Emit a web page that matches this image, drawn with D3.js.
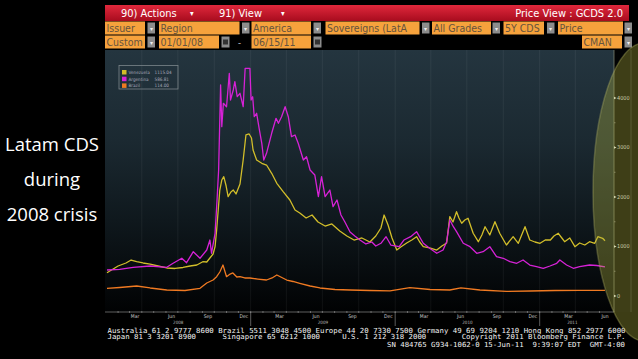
<!DOCTYPE html>
<html>
<head>
<meta charset="utf-8">
<script src="https://cdn.jsdelivr.net/npm/d3@7/dist/d3.min.js"></script>
<style>
body { margin: 0; background: #000; }
</style>
</head>
<body>
<div id="chart"></div>
<script>
// values (5Y CDS, bp)
var venezuela = [
["2008-01-04",470],["2008-02-01",606],["2008-02-21",667],["2008-03-05",727],["2008-03-19",693],
["2008-04-04",667],["2008-04-22",646],["2008-05-12",606],["2008-06-03",566],["2008-06-24",556],
["2008-07-14",576],["2008-08-01",606],["2008-08-18",626],["2008-09-02",693],["2008-09-12",687],
["2008-09-20",768],["2008-09-28",848],["2008-10-03",996],["2008-10-07",1333],["2008-10-11",1737],
["2008-10-15",2141],["2008-10-20",2343],["2008-10-25",2410],["2008-10-31",2222],["2008-11-05",2006],
["2008-11-12",2101],["2008-11-18",2141],["2008-11-25",2061],["2008-12-05",2263],["2008-12-13",2747],
["2008-12-20",3253],["2008-12-28",3273],["2009-01-03",3192],["2009-01-07",2949],["2009-01-16",2747],
["2009-01-29",2681],["2009-02-10",2646],["2009-02-23",2479],["2009-03-08",2277],["2009-03-24",2107],
["2009-04-10",1939],["2009-04-23",1737],["2009-05-05",1677],["2009-05-21",1576],["2009-06-05",1636],
["2009-06-20",1495],["2009-07-08",1414],["2009-07-25",1455],["2009-08-14",1313],["2009-09-01",1212],
["2009-09-19",1131],["2009-10-09",1172],["2009-10-29",1091],["2009-11-13",1212],["2009-11-26",1374],
["2009-12-04",1636],["2009-12-14",1434],["2009-12-24",1172],["2010-01-05",929],["2010-01-15",990],
["2010-01-30",1071],["2010-02-12",1131],["2010-02-24",1198],["2010-03-04",1091],["2010-03-13",996],
["2010-03-29",970],["2010-04-16",929],["2010-04-29",1010],["2010-05-11",1071],["2010-05-19",1602],
["2010-05-27",1495],["2010-06-05",1703],["2010-06-11",1576],["2010-06-18",1469],["2010-06-26",1535],
["2010-07-04",1570],["2010-07-17",1267],["2010-07-30",1097],["2010-08-08",1232],["2010-08-16",1400],
["2010-08-28",1232],["2010-09-10",1501],["2010-09-22",1267],["2010-10-09",1030],["2010-10-26",1198],
["2010-11-08",1065],["2010-11-25",1400],["2010-12-07",1131],["2010-12-20",1091],["2011-01-02",1065],
["2011-01-15",1131],["2011-01-28",1131],["2011-02-06",1212],["2011-02-17",1267],["2011-02-26",1172],
["2011-03-05",1097],["2011-03-18",1172],["2011-03-31",996],["2011-04-12",1071],["2011-04-25",1030],
["2011-05-07",1097],["2011-05-20",1065],["2011-05-28",1198],["2011-06-09",1166],["2011-06-15",1115]
];

var argentina = [
["2008-01-04",525],["2008-02-05",539],["2008-03-10",580],["2008-04-22",606],["2008-06-03",580],
["2008-06-19",661],["2008-07-11",762],["2008-07-23",673],["2008-08-09",895],["2008-08-26",762],
["2008-09-12",929],["2008-09-20",1131],["2008-09-24",863],["2008-10-03",1267],["2008-10-08",1939],
["2008-10-12",2545],["2008-10-17",4263],["2008-10-20",3420],["2008-10-24",3893],["2008-11-01",3824],
["2008-11-08",4499],["2008-11-11",3960],["2008-11-18",4162],["2008-11-22",4329],["2008-11-28",4026],
["2008-12-05",4095],["2008-12-13",3824],["2008-12-18",4600],["2008-12-30",4600],["2009-01-02",3960],
["2009-01-06",4026],["2009-01-10",3622],["2009-01-16",3691],["2009-01-23",3354],["2009-01-29",3085],
["2009-02-03",2747],["2009-02-10",2883],["2009-02-23",3287],["2009-03-06",3590],["2009-03-12",3489],
["2009-03-20",3622],["2009-03-29",3824],["2009-04-06",3622],["2009-04-14",3218],["2009-04-23",3253],
["2009-05-01",3085],["2009-05-14",2747],["2009-05-22",2814],["2009-05-31",2545],["2009-06-12",2444],
["2009-06-21",2006],["2009-06-29",2410],["2009-07-08",2006],["2009-07-20",2141],["2009-07-28",1804],
["2009-08-07",1939],["2009-08-17",1636],["2009-08-27",1495],["2009-09-09",1293],["2009-09-21",1212],
["2009-10-04",1131],["2009-10-19",1051],["2009-11-03",1091],["2009-11-13",1010],["2009-11-26",1065],
["2009-12-09",1198],["2009-12-21",1030],["2010-01-11",996],["2010-01-23",1131],["2010-02-09",1198],
["2010-02-24",1299],["2010-03-13",1065],["2010-03-29",964],["2010-04-16",863],["2010-05-02",929],
["2010-05-11",1097],["2010-05-19",1535],["2010-05-28",1400],["2010-06-05",1299],["2010-06-22",1065],
["2010-07-09",996],["2010-07-26",863],["2010-08-11",895],["2010-08-28",996],["2010-09-14",794],
["2010-10-01",762],["2010-10-18",693],["2010-11-04",661],["2010-11-20",727],["2010-12-07",626],
["2010-12-24",592],["2011-01-10",560],["2011-01-27",606],["2011-02-13",661],["2011-02-21",727],
["2011-03-10",626],["2011-03-27",560],["2011-04-12",592],["2011-05-07",626],["2011-05-25",616],
["2011-06-15",587]
];

var brazil = [
["2008-01-04",155],["2008-02-05",172],["2008-03-19",202],["2008-04-22",162],["2008-06-03",121],
["2008-07-19",111],["2008-08-26",155],["2008-09-12",263],["2008-09-28",323],["2008-10-07",390],
["2008-10-15",485],["2008-10-23",626],["2008-11-01",390],["2008-11-10",444],["2008-11-17",465],
["2008-11-27",384],["2008-12-05",390],["2008-12-17",364],["2008-12-30",364],["2009-01-19",343],
["2009-02-10",323],["2009-02-24",364],["2009-03-08",424],["2009-03-18",384],["2009-04-02",323],
["2009-04-18",293],["2009-05-05",257],["2009-05-31",202],["2009-06-25",162],["2009-08-02",131],
["2009-09-09",121],["2009-10-29",111],["2009-12-19",105],["2010-02-07",170],["2010-03-30",131],
["2010-05-19",121],["2010-06-16",166],["2010-08-03",121],["2010-10-09",93],["2010-12-08",101],
["2011-02-09",111],["2011-04-13",115],["2011-06-15",114]
];

var seriesNames = ["Venezuela", "Argentina", "Brazil"];
var lastValues = ["1115.04", "586.81", "114.00"];
var seriesColors = ["#d2be2a", "#d622d6", "#f07a22"];
var yTicks = [0, 1000, 2000, 3000, 4000];
var yMinor = [500, 1500, 2500, 3500];
var quarterLabels = {2: "Mar", 5: "Jun", 8: "Sep", 11: "Dec"};
var dateRange = ["2008-01-01", "2011-06-15"];

var titleLines = ["Latam CDS", "during", "2008 crisis"];
var row1Labels = ["Issuer", "Region", "America", "Sovereigns (LatA", "All Grades", "5Y CDS", "Price"];
var row2Labels = ["Custom", "01/01/08", "06/15/11", "CMAN"];
var footerLines = [
  "Australia 61 2 9777 8600 Brazil 5511 3048 4500 Europe 44 20 7330 7500 Germany 49 69 9204 1210 Hong Kong 852 2977 6000",
  "Japan 81 3 3201 8900      Singapore 65 6212 1000     U.S. 1 212 318 2000        Copyright 2011 Bloomberg Finance L.P.",
  "SN 484765 G934-1062-0 15-Jun-11  9:39:07 EDT  GMT-4:00"
];

var width = 638, height = 359;
var parse = d3.timeParse("%Y-%m-%d");
var condensed = "'DejaVu Sans Condensed', 'Liberation Sans Narrow', 'DejaVu Sans', sans-serif";

var svg = d3.select("#chart").append("svg")
    .attr("width", width)
    .attr("height", height);

svg.append("rect").attr("width", width).attr("height", height).attr("fill", "#000");

// slide title on the left
svg.append("g").selectAll("text")
    .data(titleLines)
    .enter()
    .append("text")
    .attr("x", 52)
    .attr("y", function(d, i) { return 151 + i * 35; })
    .attr("text-anchor", "middle")
    .attr("fill", "#fff")
    .style("font-family", "'Open Sans', 'Noto Sans', sans-serif")
    .style("font-size", "18.5px")
    .text(function(d) { return d; });

var defs = svg.append("defs");
var redGrad = defs.append("linearGradient").attr("id", "red").attr("x1", 0).attr("y1", 0).attr("x2", 0).attr("y2", 1);
redGrad.append("stop").attr("offset", "0%").attr("stop-color", "#e0283c");
redGrad.append("stop").attr("offset", "100%").attr("stop-color", "#a80c1e");

var bgGrad = defs.append("linearGradient").attr("id", "bg").attr("x1", 0).attr("y1", 0).attr("x2", 0).attr("y2", 1);
bgGrad.append("stop").attr("offset", "0%").attr("stop-color", "#24353f");
bgGrad.append("stop").attr("offset", "35%").attr("stop-color", "#1b2931");
bgGrad.append("stop").attr("offset", "65%").attr("stop-color", "#0f181d");
bgGrad.append("stop").attr("offset", "100%").attr("stop-color", "#010203");

// header bars
svg.append("rect").attr("x", 105).attr("y", 5).attr("width", 524).attr("height", 16).attr("fill", "url(#red)");
var hdr = svg.append("g").attr("fill", "#fff").style("font-family", condensed).style("font-size", "11px");
hdr.append("text").attr("x", 121).attr("y", 17).text("90) Actions");
hdr.append("text").attr("x", 190).attr("y", 16).style("font-size", "8px").text("\u25BE");
hdr.append("text").attr("x", 219).attr("y", 17).text("91) View");
hdr.append("text").attr("x", 281).attr("y", 16).style("font-size", "8px").text("\u25BE");
hdr.append("text").attr("x", 623).attr("y", 17).attr("text-anchor", "end").text("Price View : GCDS 2.0");

var row1Boxes = [[105, 40], [159, 80.5], [251.5, 59.5], [325.5, 94], [432, 59], [503.5, 40.5], [558, 65]];
var row1Buttons = [147.5, 242, 313.5, 422, 492.5, 547, 624.5];
var row2Boxes = [[105, 40], [159, 60], [251.5, 59.5], [582, 40]];
var row2Buttons = [147.5, 624.5];
var row2Cal = [221.5, 313.5];

function drawRow(y, boxes, labels, buttons, cals) {
  var g = svg.append("g");
  g.selectAll("rect.box").data(boxes).enter().append("rect")
      .attr("x", function(d) { return d[0]; }).attr("y", y)
      .attr("width", function(d) { return d[1]; }).attr("height", 13)
      .attr("fill", "#f6a23c");
  g.selectAll("text.lbl").data(labels).enter().append("text")
      .attr("x", function(d, i) { return boxes[i][0] + 1.5; }).attr("y", y + 10.5)
      .attr("fill", "#65533f")
      .style("font-family", condensed).style("font-size", "10.5px")
      .text(function(d) { return d; });
  g.selectAll("rect.btn").data(buttons).enter().append("rect")
      .attr("x", function(d) { return d; }).attr("y", y + 1)
      .attr("width", 7.5).attr("height", 11).attr("fill", "#8c8c8c");
  g.selectAll("text.arr").data(buttons).enter().append("text")
      .attr("x", function(d) { return d + 3.75; }).attr("y", y + 9)
      .attr("text-anchor", "middle").attr("fill", "#eee").style("font-size", "6px")
      .text("\u25BE");
  g.selectAll("rect.cal").data(cals).enter().append("rect")
      .attr("x", function(d) { return d; }).attr("y", y + 1)
      .attr("width", 8).attr("height", 11).attr("fill", "#8c8c8c");
  g.selectAll("rect.calin").data(cals).enter().append("rect")
      .attr("x", function(d) { return d + 1.5; }).attr("y", y + 4)
      .attr("width", 5).attr("height", 5).attr("fill", "#333");
}
drawRow(21.5, row1Boxes, row1Labels, row1Buttons, []);
drawRow(35.5, row2Boxes, row2Labels, row2Buttons, row2Cal);
svg.append("text").attr("x", 239.5).attr("y", 45.5).attr("text-anchor", "middle")
    .attr("fill", "#ddd").style("font-size", "9px").text("-");

// chart
var plotTop = 50, plotBottom = 312, plotLeft = 105, axisX = 614;
var x = d3.scaleTime()
    .domain([parse(dateRange[0]), parse(dateRange[1])])
    .range([105.8, 605]);
var y = d3.scaleLinear()
    .domain([0, 4000])
    .range([296, 98]);

svg.append("rect").attr("x", plotLeft).attr("y", plotTop)
    .attr("width", axisX - plotLeft).attr("height", plotBottom - plotTop)
    .attr("fill", "url(#bg)");
svg.append("rect").attr("x", axisX).attr("y", plotTop)
    .attr("width", 18).attr("height", plotBottom - plotTop).attr("fill", "#020304");

// faint quarter grid
var quarters = d3.timeMonth.every(3).range(x.domain()[0], x.domain()[1]);
svg.append("g").selectAll("line")
    .data(quarters.filter(function(d) { return x(d) > plotLeft + 2; }))
    .enter().append("line")
    .attr("x1", function(d) { return x(d); }).attr("x2", function(d) { return x(d); })
    .attr("y1", plotTop).attr("y2", plotBottom)
    .attr("stroke", "#ffffff").attr("stroke-opacity", 0.06);

var line = d3.line()
    .x(function(d) { return x(parse(d[0])); })
    .y(function(d) { return y(d[1]); });

var allSeries = [venezuela, argentina, brazil];
svg.append("g").selectAll("path")
    .data([brazil, venezuela, argentina])
    .enter().append("path")
    .attr("d", line)
    .attr("fill", "none")
    .attr("stroke", function(d) { return seriesColors[allSeries.indexOf(d)]; })
    .attr("stroke-width", 1.3)
    .attr("stroke-linejoin", "round");

// legend
var legend = svg.append("g");
legend.append("rect").attr("x", 119).attr("y", 65.5).attr("width", 59).attr("height", 23.5)
    .attr("fill", "none").attr("stroke", "#7c858a").attr("stroke-width", 0.8);
var lg = legend.selectAll("g").data(seriesNames).enter().append("g")
    .attr("transform", function(d, i) { return "translate(0," + (72.3 + i * 6.7) + ")"; });
lg.append("rect").attr("x", 122).attr("y", -2.3).attr("width", 4.5).attr("height", 4.5)
    .attr("fill", function(d, i) { return seriesColors[i]; });
lg.append("text").attr("x", 128.5).attr("y", 1.6).attr("fill", "#aab")
    .style("font-family", condensed).style("font-size", "4.6px")
    .text(function(d) { return d; });
lg.append("text").attr("x", 154.5).attr("y", 1.6).attr("fill", "#aab")
    .style("font-family", condensed).style("font-size", "4.6px")
    .text(function(d, i) { return lastValues[i]; });

// y axis on the right
var yAxis = svg.append("g");
yAxis.append("line").attr("x1", axisX).attr("x2", axisX).attr("y1", plotTop).attr("y2", plotBottom)
    .attr("stroke", "#8a8f7a").attr("stroke-width", 0.7);
yAxis.append("line").attr("x1", 631).attr("x2", 631).attr("y1", plotTop).attr("y2", plotBottom)
    .attr("stroke", "#555").attr("stroke-width", 0.5);
yAxis.selectAll("path.mk").data(yTicks).enter().append("path")
    .attr("d", function(d) { var yy = y(d); return "M" + axisX + "," + (yy - 1.3) + "L" + (axisX + 2.5) + "," + yy + "L" + axisX + "," + (yy + 1.3) + "Z"; })
    .attr("fill", "#eee");
yAxis.selectAll("line.mn").data(yMinor).enter().append("line")
    .attr("x1", axisX).attr("x2", axisX + 1.5)
    .attr("y1", function(d) { return y(d); }).attr("y2", function(d) { return y(d); })
    .attr("stroke", "#aaa").attr("stroke-width", 0.6);
yAxis.selectAll("text").data(yTicks).enter().append("text")
    .attr("x", axisX + 3).attr("y", function(d) { return y(d) + 1.8; })
    .attr("fill", "#ddd")
    .style("font-family", condensed).style("font-size", "5.5px")
    .text(function(d) { return d; });

// x axis
var xAxis = svg.append("g");
xAxis.append("line").attr("x1", plotLeft).attr("x2", axisX).attr("y1", plotBottom).attr("y2", plotBottom)
    .attr("stroke", "#888").attr("stroke-width", 0.7);
var months = d3.timeMonth.range(d3.timeMonth.offset(x.domain()[0], 1), x.domain()[1]);
xAxis.selectAll("line.mt").data(months).enter().append("line")
    .attr("x1", function(d) { return x(d); }).attr("x2", function(d) { return x(d); })
    .attr("y1", plotBottom - 1).attr("y2", plotBottom + 1)
    .attr("stroke", "#999").attr("stroke-width", 0.6);
var labelMonths = d3.timeMonth.range(x.domain()[0], d3.timeDay.offset(x.domain()[1], 1))
    .filter(function(d) { return quarterLabels[d.getMonth()]; });
xAxis.selectAll("text.ml").data(labelMonths).enter().append("text")
    .attr("x", function(d) { return x(d3.timeDay.offset(d, 14)); })
    .attr("y", 318)
    .attr("text-anchor", "middle").attr("fill", "#ccc")
    .style("font-family", condensed).style("font-size", "5px")
    .text(function(d) { return quarterLabels[d.getMonth()]; });
var years = d3.timeYear.range(x.domain()[0], x.domain()[1]);
xAxis.selectAll("line.yr").data(years.slice(1)).enter().append("line")
    .attr("x1", function(d) { return x(d); }).attr("x2", function(d) { return x(d); })
    .attr("y1", plotBottom).attr("y2", 326)
    .attr("stroke", "#999").attr("stroke-width", 0.6);
xAxis.selectAll("text.yl").data(years).enter().append("text")
    .attr("x", function(d) {
      var a = Math.max(x(d), x.range()[0]);
      var b = Math.min(x(d3.timeYear.offset(d, 1)), x.range()[1]);
      return (a + b) / 2;
    })
    .attr("y", 324)
    .attr("text-anchor", "middle").attr("fill", "#bbb")
    .style("font-family", condensed).style("font-size", "4.5px")
    .text(function(d) { return d.getFullYear(); });

// footer
var footX = [[107.5, 518], [107.5, 518], [387, 238]];
svg.append("g").selectAll("text").data(footerLines).enter().append("text")
    .attr("x", function(d, i) { return footX[i][0]; })
    .attr("y", function(d, i) { return [332.5, 339, 346.5][i]; })
    .attr("textLength", function(d, i) { return footX[i][1]; })
    .attr("lengthAdjust", "spacingAndGlyphs")
    .attr("fill", "#f2f2f2")
    .style("font-family", "'DejaVu Sans Mono', 'Liberation Mono', monospace")
    .style("font-size", "7px")
    .style("white-space", "pre")
    .attr("xml:space", "preserve")
    .text(function(d) { return d; });

// highlight ellipse over the right axis
svg.append("ellipse")
    .attr("cx", 644).attr("cy", 192).attr("rx", 51).attr("ry", 149)
    .attr("fill", "#b4b23e").attr("fill-opacity", 0.34)
    .attr("stroke", "#c8c870").attr("stroke-opacity", 0.3).attr("stroke-width", 1.5);
</script>
</body>
</html>
